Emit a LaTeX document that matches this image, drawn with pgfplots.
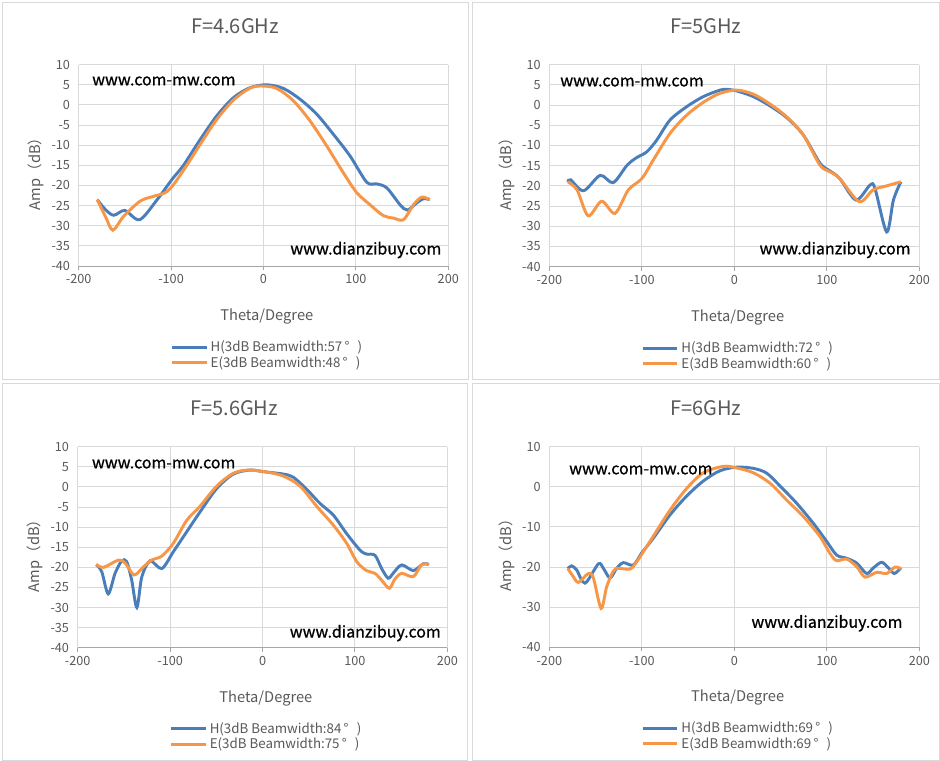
\documentclass[border=0pt]{standalone}
\usepackage{pgfplots}
\pgfplotsset{compat=1.18}
\usepackage{fontspec}
\setmainfont{Noto Sans CJK SC}
\newfontfamily\wmfont{Noto Sans CJK SC}[FakeBold=0.8]
\definecolor{hblue}{HTML}{4A7EBB}
\definecolor{eorange}{HTML}{F79646}
\definecolor{txt}{HTML}{595959}
\definecolor{grd}{HTML}{D9D9D9}
\definecolor{brd}{HTML}{D9D9D9}
\tikzset{wm/.style={font=\wmfont\fontsize{12}{13}\selectfont, color=black, inner sep=0pt}}
\pgfplotsset{
  panel/.style={
    scale only axis, anchor=south west,
    xmin=-200,xmax=200,ymin=-40,ymax=10,
    xtick={-200,-100,...,200},
    grid=major, grid style={grd, line width=0.75pt},
    axis x line*=bottom, axis y line*=left,
    x axis line style={draw=gray!70, -}, y axis line style={draw=none},
    tick label style={font=\fontsize{9.5}{10}\selectfont, color=txt},
    /pgf/number format/assume math mode=true,
    xtick style={draw=gray!70, line width=0.75pt}, ytick style={draw=none},
    tick align=outside, major tick length=3pt,
    xlabel={Theta/Degree}, ylabel={Amp（dB）},
    label style={font=\fontsize{11}{12}\selectfont, color=txt},
    xlabel style={at={(axis description cs:0.509,-0.252)}, anchor=center},
    ylabel style={at={(axis description cs:-0.116,0.475)}, anchor=center},
    title style={font=\fontsize{15}{16}\selectfont, color=txt, at={(axis description cs:0.423,1.152)}, anchor=center},
    every axis plot/.append style={smooth, line width=2.2pt, mark=none},
    legend style={draw=none, fill=none, font=\fontsize{10}{11}\selectfont\color{txt},
      at={(rel axis cs:0.244,-0.35)}, anchor=north west, row sep=-2pt,
      inner sep=1pt, cells={anchor=west}},
    legend image code/.code={\draw[#1,line width=2.2pt] (0pt,0pt) -- (26pt,0pt);},
  },
}
\newcommand{\dg}{\,°\ \ \,}
\begin{document}
\begin{tikzpicture}
\fill[white] (0pt,0pt) rectangle (705pt,-570.75pt);
\draw[brd, line width=0.75pt] (1.9pt,-1.5pt) rectangle (351pt,-284.3pt);
\draw[brd, line width=0.75pt] (354.4pt,-1.5pt) rectangle (704.3pt,-284.3pt);
\draw[brd, line width=0.75pt] (1.5pt,-287.3pt) rectangle (350.6pt,-570pt);
\draw[brd, line width=0.75pt] (354.4pt,-287.3pt) rectangle (704.3pt,-570pt);

% Panel 1
\begin{axis}[panel, at={(59.0pt,-199.5pt)}, width=277.2pt, height=151pt,
  ytick={-40,-35,...,10}, title={F=4.6GHz}]
\addplot[hblue] coordinates {(-180,-23.5) (-171,-26.0) (-162,-27.4) (-150,-26.2) (-134,-28.5) (-115,-23.5) (-99,-18.5) (-86.6,-15) (-68.5,-8.6) (-50.5,-2.7) (-32.5,1.8) (-14.4,4.3) (3.6,5.0) (21.6,4.1) (39.7,1.4) (57.7,-2.3) (75.7,-7.3) (93.8,-12.7) (111.8,-19.2) (122.6,-19.6) (133.5,-20.6) (147.9,-24.8) (155.8,-26.1) (166,-24.3) (173,-23.3) (180,-23.5)};
\addlegendentry{H(3dB Beamwidth:57\dg)}
\addplot[eorange] coordinates {(-180,-23.5) (-171,-27.7) (-163,-31.1) (-151.5,-27.7) (-133.5,-23.9) (-119,-22.7) (-106.4,-21.8) (-97.4,-19.8) (-83,-15) (-68.5,-9.8) (-50.5,-3.6) (-32.5,1.2) (-14.4,4.2) (-1.8,4.7) (14.4,4.1) (32.5,1.0) (50.5,-4.0) (68.5,-10.2) (86.6,-16.9) (101,-21.8) (115.4,-24.8) (129.8,-27.5) (140.7,-28.1) (151.5,-28.5) (162.3,-24.8) (171.3,-22.9) (180,-23.5)};
\addlegendentry{E(3dB Beamwidth:48\dg)}
\node[wm, anchor=west] at (rel axis cs:0.036,0.919) {www.com-mw.com};
\node[wm, anchor=east] at (rel axis cs:0.982,0.0795) {www.dianzibuy.com};
\end{axis}

% Panel 2
\begin{axis}[panel, at={(412.0pt,-200.0pt)}, width=277.5pt, height=151.5pt,
  ytick={-40,-35,...,10}, title={F=5GHz}]
\addplot[hblue] coordinates {(-180,-19.0) (-177,-18.5) (-163,-21.2) (-145,-17.4) (-131,-19.2) (-116,-14.9) (-105.6,-13.0) (-94.8,-11.6) (-84,-8.7) (-69.5,-3.7) (-51.5,-0.4) (-33.5,2.1) (-15.5,3.7) (-8.3,3.9) (2.5,3.5) (20.5,2.1) (38.6,-0.2) (56.6,-3.1) (74.6,-7.4) (92.6,-14.4) (103.4,-16.3) (114,-18.2) (131.5,-23.5) (146.7,-19.8) (152,-20.6) (164.7,-31.4) (172,-23.5) (180,-19.0)};
\addlegendentry{H(3dB Beamwidth:72\dg)}
\addplot[eorange] coordinates {(-180,-19.0) (-170,-21) (-158,-27.4) (-143.4,-23.8) (-129,-26.8) (-114.6,-21) (-100,-18.2) (-87.6,-13.6) (-69.5,-7.0) (-51.5,-2.5) (-33.5,0.7) (-15.5,2.9) (2.5,3.7) (20.5,2.7) (38.6,0.25) (56.6,-2.9) (74.6,-7.4) (92.6,-14.9) (103.4,-16.5) (114,-18.2) (135,-23.9) (150,-21) (164.7,-20) (180,-19)};
\addlegendentry{E(3dB Beamwidth:60\dg)}
\node[wm, anchor=west] at (rel axis cs:0.029,0.914) {www.com-mw.com};
\node[wm, anchor=east] at (rel axis cs:0.977,0.083) {www.dianzibuy.com};
\end{axis}

% Panel 3
\begin{axis}[panel, at={(58.3pt,-485.8pt)}, width=277.2pt, height=150.75pt,
  ytick={-40,-35,...,10}, title={F=5.6GHz}]
\addplot[hblue] coordinates {(-180,-19.3) (-174,-21.1) (-167,-26.6) (-159.6,-21.5) (-152.4,-18.4) (-147,-18.6) (-141.6,-23.2) (-136,-30) (-130.6,-22.3) (-121.7,-18.4) (-109,-20.3) (-96.5,-16.1) (-85.7,-12.4) (-67.6,-6.2) (-49.6,-0.4) (-31.6,3.2) (-13.5,4.2) (0.9,3.8) (22.5,3.2) (33.4,2.4) (47.8,-0.6) (62.2,-4.1) (76.6,-7.0) (91,-11.6) (105.4,-15.7) (112.5,-16.7) (121.7,-17.0) (128.9,-20.3) (136,-22.7) (141.6,-21.4) (150.6,-19.4) (163.2,-20.8) (174,-19.1) (180,-19.3)};
\addlegendentry{H(3dB Beamwidth:84\dg)}
\addplot[eorange] coordinates {(-180,-19.3) (-172,-20.0) (-156,-18.2) (-148.8,-18.9) (-139,-21.9) (-129,-19.9) (-120,-18.2) (-109,-17.2) (-96.5,-14.0) (-82,-8.3) (-67.6,-4.8) (-49.6,0.2) (-31.6,3.4) (-15.3,4.2) (4.5,3.7) (22.5,2.7) (40.6,0.2) (58.6,-4.8) (76.6,-9.5) (91,-14.0) (102,-18.6) (112.5,-20.8) (121.7,-21.5) (128.9,-23.2) (137.2,-25.2) (143.3,-22.9) (150.6,-21.5) (163.2,-22.3) (172,-19.4) (180,-19.3)};
\addlegendentry{E(3dB Beamwidth:75\dg)}
\node[wm, anchor=west] at (rel axis cs:0.038,0.914) {www.com-mw.com};
\node[wm, anchor=east] at (rel axis cs:0.983,0.073) {www.dianzibuy.com};
\end{axis}

% Panel 4
\begin{axis}[panel, at={(412.0pt,-485.5pt)}, width=277.5pt, height=150.5pt,
  ytick={-40,-30,...,10}, title={F=6GHz}]
\addplot[hblue] coordinates {(-180,-20.4) (-176,-19.7) (-170.5,-20.7) (-161.4,-24.0) (-147,-19.2) (-141.6,-20.3) (-134.4,-22.7) (-127.2,-20.3) (-120,-18.9) (-109.2,-19.5) (-100.2,-16.5) (-87.6,-12.8) (-69.5,-7.0) (-51.5,-2.3) (-33.5,1.45) (-15.5,4.0) (2.5,4.9) (20.5,4.6) (35,3.4) (49.4,0.2) (67.4,-4.1) (85.4,-9.1) (99.8,-13.6) (110.6,-17.0) (121.4,-17.8) (132.3,-19.0) (143,-21.6) (150.3,-20.2) (159.3,-18.8) (166.5,-20.2) (173,-21.6) (180,-20.2)};
\addlegendentry{H(3dB Beamwidth:69\dg)}
\addplot[eorange] coordinates {(-180,-20.4) (-174,-22.4) (-168.6,-23.8) (-157.8,-21.6) (-152.4,-22.7) (-144,-30.3) (-138,-24.9) (-130.8,-21.0) (-125.4,-20.3) (-112.8,-20.5) (-105.6,-18.7) (-87.6,-12.3) (-69.5,-5.8) (-51.5,-0.4) (-33.5,3.5) (-11.9,5.1) (2.5,4.7) (20.5,3.5) (38.6,0.9) (56.6,-3.3) (74.6,-7.4) (92.6,-12.4) (103.4,-16.6) (110.6,-18.4) (121.4,-18.0) (132.3,-19.9) (141.3,-22.5) (153.9,-21.3) (164.7,-21.6) (173.7,-20.0) (180,-20.4)};
\addlegendentry{E(3dB Beamwidth:69\dg)}
\node[wm, anchor=west] at (rel axis cs:0.053,0.884) {www.com-mw.com};
\node[wm, anchor=east] at (rel axis cs:0.955,0.12) {www.dianzibuy.com};
\end{axis}
\end{tikzpicture}
\end{document}
